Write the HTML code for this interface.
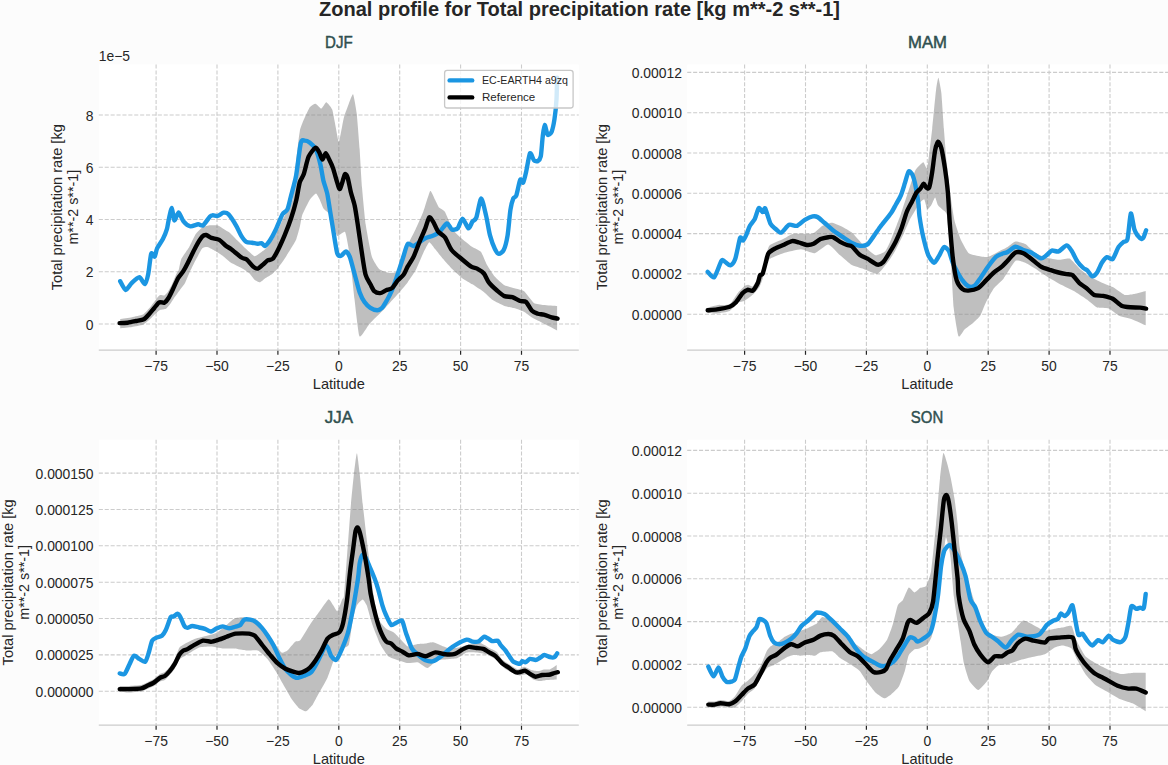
<!DOCTYPE html>
<html><head><meta charset="utf-8"><title>Zonal profile</title><style>html,body{margin:0;padding:0;background:#fcfcfc;}svg{display:block;}</style></head><body>
<svg width="1168" height="765" viewBox="0 0 1168 765" font-family='"Liberation Sans", "DejaVu Sans", sans-serif'>
<rect x="0" y="0" width="1168" height="765" fill="#fcfcfc"/>
<rect x="98.8" y="64.5" width="480.0" height="285.5" fill="#ffffff"/>
<g stroke="#cccccc" stroke-width="1.1" stroke-dasharray="4.1 1.8"><line x1="156.1" y1="64.5" x2="156.1" y2="350.0"/><line x1="217.0" y1="64.5" x2="217.0" y2="350.0"/><line x1="277.9" y1="64.5" x2="277.9" y2="350.0"/><line x1="338.8" y1="64.5" x2="338.8" y2="350.0"/><line x1="399.7" y1="64.5" x2="399.7" y2="350.0"/><line x1="460.6" y1="64.5" x2="460.6" y2="350.0"/><line x1="521.5" y1="64.5" x2="521.5" y2="350.0"/><line x1="98.8" y1="324.0" x2="578.8" y2="324.0"/><line x1="98.8" y1="271.8" x2="578.8" y2="271.8"/><line x1="98.8" y1="219.5" x2="578.8" y2="219.5"/><line x1="98.8" y1="167.2" x2="578.8" y2="167.2"/><line x1="98.8" y1="115.0" x2="578.8" y2="115.0"/></g>
<path d="M120.2,319.0C121.1,318.9 130.2,317.6 132.0,317.2C133.8,316.8 141.5,315.5 143.0,314.6C144.5,313.7 149.7,307.7 150.7,306.5C151.7,305.3 155.1,300.6 155.8,299.7C156.5,298.8 159.3,295.4 160.0,295.1C160.7,294.8 163.7,295.7 164.3,295.5C164.9,295.3 167.1,293.0 167.7,292.1C168.3,291.2 171.2,285.8 171.9,284.4C172.6,283.0 175.7,275.4 176.2,274.2C176.7,273.0 178.3,271.2 178.7,270.0C179.1,268.8 180.6,260.6 181.4,258.8C182.2,257.0 188.1,249.0 189.2,247.0C190.3,245.0 194.7,235.6 195.7,234.0C196.7,232.4 201.3,228.1 202.3,227.4C203.3,226.7 207.6,225.7 208.8,225.5C210.0,225.3 216.7,225.2 217.9,225.5C219.1,225.8 222.3,228.1 223.2,228.7C224.1,229.3 228.6,231.8 229.7,232.7C230.8,233.6 236.2,239.3 237.5,240.5C238.8,241.7 244.0,247.0 245.4,248.3C246.8,249.6 253.2,255.9 254.5,256.2C255.8,256.5 260.1,253.0 261.1,252.3C262.1,251.6 266.5,248.4 267.6,247.0C268.7,245.6 274.2,237.4 275.4,235.3C276.6,233.2 281.0,223.0 282.0,220.9C283.0,218.8 287.7,210.8 288.5,209.1C289.3,207.4 292.0,201.6 292.4,200.0C292.8,198.4 292.6,194.3 293.2,188.8C293.8,183.3 298.5,137.7 299.8,131.2C301.1,124.7 308.3,109.8 309.6,107.6C310.9,105.4 314.6,103.6 315.5,103.7C316.4,103.8 320.5,108.7 321.4,108.6C322.3,108.5 325.4,102.1 326.3,102.2C327.2,102.3 331.4,107.4 332.2,109.6C333.0,111.8 335.6,126.6 336.1,129.2C336.6,131.8 338.4,142.9 339.0,142.0C339.6,141.1 343.1,120.6 343.9,117.5C344.7,114.4 348.1,105.6 348.8,103.7C349.5,101.8 352.5,93.5 353.1,94.3C353.7,95.1 356.2,109.1 356.7,113.5C357.2,117.9 359.2,142.9 359.6,148.8C360.0,154.7 361.5,181.2 362.0,187.3C362.5,193.4 364.9,218.9 365.7,224.5C366.5,230.1 370.8,253.2 371.9,256.8C373.0,260.4 378.0,268.0 379.4,269.3C380.8,270.6 387.9,272.8 389.3,273.0C390.7,273.2 396.0,272.4 396.8,271.7C397.6,271.0 398.9,266.8 399.8,264.7C400.7,262.6 406.3,247.9 407.6,245.1C408.9,242.3 414.2,232.1 415.5,229.4C416.8,226.7 422.1,214.9 423.3,211.8C424.5,208.7 429.3,192.0 430.2,191.0C431.1,190.0 434.4,198.5 435.1,199.8C435.8,201.1 438.2,206.6 439.0,207.6C439.8,208.6 443.8,210.1 444.9,211.8C446.0,213.5 451.3,227.2 452.7,229.4C454.1,231.6 460.9,237.8 462.5,239.2C464.1,240.6 470.9,246.1 472.4,247.1C473.9,248.1 479.8,250.6 481.0,252.0C482.2,253.4 485.8,262.7 486.9,264.7C488.0,266.7 493.3,274.9 494.7,276.5C496.1,278.1 502.9,284.4 504.5,285.3C506.1,286.2 512.7,287.7 514.3,288.2C515.9,288.7 522.5,290.0 524.1,291.2C525.7,292.4 532.3,301.8 533.9,302.9C535.5,304.0 541.8,304.7 543.7,304.9C545.6,305.1 556.0,305.8 557.1,305.9L557.1,330.4C556.0,329.8 545.7,324.5 543.7,323.5C541.7,322.5 533.6,318.5 532.0,317.6C530.4,316.7 525.4,312.5 524.1,311.8C522.8,311.1 517.9,309.3 516.3,308.8C514.7,308.3 506.4,306.6 504.5,305.9C502.6,305.2 494.3,301.1 492.7,300.0C491.1,298.9 485.7,293.5 484.1,292.2C482.5,290.9 474.1,285.4 472.4,284.3C470.7,283.2 464.1,279.6 462.5,278.4C460.9,277.2 454.3,271.2 452.7,269.6C451.1,268.0 444.3,260.4 442.9,258.8C441.5,257.2 436.2,250.3 435.1,249.0C434.0,247.7 430.1,241.9 429.2,242.2C428.3,242.5 424.4,250.6 423.3,252.9C422.2,255.2 416.8,268.2 415.5,270.6C414.2,273.0 409.0,280.5 407.6,282.4C406.2,284.3 399.7,292.0 397.8,294.1C395.9,296.2 386.6,306.6 384.3,309.0C382.0,311.4 371.4,321.7 369.4,323.9C367.4,326.1 360.7,338.3 359.5,336.3C358.3,334.3 355.3,305.6 354.5,299.0C353.7,292.4 350.4,259.7 349.6,254.3C348.8,248.9 346.1,233.5 345.1,232.0C344.1,230.5 338.3,237.1 337.1,235.7C335.9,234.3 330.8,216.8 329.7,214.6C328.6,212.4 324.3,209.6 323.5,208.4C322.7,207.2 320.4,200.9 319.8,199.7C319.2,198.5 316.8,193.5 316.0,193.5C315.2,193.5 310.9,198.0 309.8,199.7C308.7,201.4 303.2,212.5 302.4,214.6C301.6,216.7 300.5,224.1 300.0,226.1C299.5,228.1 297.0,237.4 296.3,239.2C295.6,241.0 292.0,246.7 291.1,248.3C290.2,249.9 285.6,257.2 284.6,258.8C283.6,260.4 279.1,266.6 278.1,267.9C277.1,269.2 272.5,273.7 271.5,274.5C270.5,275.3 265.9,277.8 265.0,278.4C264.1,279.0 260.6,282.2 259.8,282.3C259.0,282.4 255.3,280.4 254.5,279.7C253.7,279.0 250.3,274.1 249.3,273.2C248.3,272.3 243.0,268.7 241.5,267.9C240.0,267.1 232.5,263.6 231.0,262.7C229.5,261.8 224.5,257.1 223.2,256.2C221.9,255.3 216.6,251.7 215.3,251.0C214.0,250.3 208.5,247.2 207.5,247.0C206.5,246.8 203.2,247.3 202.3,248.3C201.4,249.3 196.7,258.1 195.7,260.1C194.7,262.1 190.1,271.3 189.2,273.2C188.3,275.1 185.5,282.2 184.7,283.6C183.9,285.0 180.4,289.3 179.6,290.4C178.8,291.5 175.3,296.1 174.5,297.2C173.7,298.3 170.9,303.1 170.2,304.0C169.5,304.9 166.8,308.2 166.0,308.7C165.2,309.2 160.9,309.5 160.0,309.9C159.1,310.3 155.8,313.4 154.9,314.2C154.0,315.0 150.0,319.3 149.0,320.1C148.0,320.9 144.4,324.3 143.0,324.8C141.6,325.3 133.8,326.6 132.0,326.9C130.2,327.2 121.1,328.1 120.2,328.2Z" fill="#808080" fill-opacity="0.5" stroke="none"/>
<path d="M120.2,281.2C120.9,282.3 124.3,289.8 125.7,290.0C127.1,290.2 130.0,284.6 131.6,283.1C133.2,281.6 137.8,277.2 139.4,277.3C141.0,277.4 143.8,284.5 144.9,284.1C146.0,283.7 147.4,277.9 148.2,274.3C149.0,270.7 150.4,255.8 151.2,253.7C152.0,251.6 154.0,257.3 154.7,256.7C155.4,256.1 156.1,250.5 157.1,248.4C158.1,246.3 161.7,241.3 162.9,239.0C164.1,236.7 166.2,231.6 166.9,229.2C167.6,226.8 168.2,221.9 168.8,219.4C169.4,216.9 171.1,207.9 171.8,208.0C172.5,208.1 173.5,219.9 174.3,220.4C175.1,220.9 177.5,212.4 178.6,212.5C179.7,212.6 182.1,219.7 183.5,221.4C184.9,223.1 188.6,226.0 190.4,226.3C192.2,226.6 196.7,224.4 198.2,224.3C199.7,224.2 201.7,226.2 203.1,225.3C204.5,224.4 208.8,217.7 210.0,216.5C211.2,215.3 211.9,215.4 212.8,215.3C213.7,215.2 216.4,216.2 217.7,215.9C219.0,215.6 222.3,212.9 223.6,212.7C224.9,212.5 227.0,212.7 228.5,214.3C230.0,215.9 234.9,223.5 236.4,226.1C237.9,228.7 240.1,234.0 241.3,235.9C242.5,237.8 244.9,241.0 246.2,241.8C247.5,242.6 250.7,242.5 252.1,242.7C253.5,242.9 256.7,243.6 257.9,243.7C259.1,243.8 261.1,243.0 261.9,243.3C262.7,243.6 263.9,246.4 264.8,246.1C265.7,245.8 268.4,242.7 269.7,240.8C271.0,238.9 274.1,233.2 275.6,230.0C277.1,226.8 281.1,216.8 282.5,214.3C283.9,211.8 286.3,211.8 287.4,209.4C288.5,207.0 290.2,198.8 291.3,194.7C292.4,190.6 295.1,181.3 296.2,175.1C297.3,168.9 299.8,147.0 300.8,142.9C301.8,138.8 303.6,140.6 304.7,140.6C305.8,140.6 308.3,141.5 309.6,142.5C310.9,143.5 314.2,146.2 315.5,148.8C316.8,151.4 319.5,160.7 320.4,164.5C321.3,168.3 322.5,176.7 323.3,180.2C324.1,183.7 326.5,190.1 327.3,193.9C328.1,197.7 329.5,207.5 330.2,211.8C330.9,216.1 332.3,224.5 333.1,229.4C333.9,234.3 336.2,249.7 337.1,252.9C338.0,256.1 339.9,256.1 341.0,255.9C342.1,255.7 344.8,251.3 345.9,251.4C347.0,251.5 348.7,254.1 349.8,256.9C350.9,259.7 353.5,270.3 354.7,274.5C355.9,278.7 358.4,288.9 359.6,292.2C360.8,295.5 363.2,300.1 364.5,302.0C365.8,303.9 368.9,306.8 370.4,307.8C371.9,308.8 375.9,310.2 377.3,310.2C378.7,310.2 381.0,309.0 382.2,307.8C383.4,306.6 385.9,302.1 387.1,300.0C388.3,297.9 390.8,293.0 392.0,290.2C393.2,287.4 395.6,280.3 396.9,276.5C398.2,272.7 401.4,262.7 402.7,258.8C404.0,254.9 406.3,245.6 407.6,244.1C408.9,242.6 412.1,246.3 413.5,246.1C414.9,245.9 418.0,243.1 419.4,242.2C420.8,241.3 423.9,238.9 425.3,238.2C426.7,237.5 429.6,237.0 431.2,236.3C432.8,235.6 437.1,233.9 439.0,232.4C440.9,230.9 445.4,223.9 446.9,223.5C448.4,223.1 450.5,228.8 451.8,229.4C453.1,230.0 456.3,229.7 457.6,228.4C458.9,227.1 461.2,218.6 462.5,218.6C463.8,218.6 467.2,228.0 468.4,228.4C469.6,228.8 471.5,222.9 472.4,221.6C473.3,220.3 475.2,220.4 476.3,217.6C477.4,214.8 480.0,198.7 481.2,198.5C482.4,198.3 485.0,211.3 486.1,215.7C487.2,220.1 488.9,231.3 490.0,235.3C491.1,239.3 493.8,246.8 494.9,249.0C496.0,251.2 497.7,253.8 498.8,253.9C499.9,254.0 502.6,252.2 503.7,250.0C504.8,247.8 506.8,240.1 507.6,235.3C508.4,230.5 509.7,214.4 510.4,210.0C511.1,205.6 512.6,200.1 513.3,198.4C514.0,196.7 515.5,197.7 516.3,195.5C517.1,193.3 519.4,181.3 520.2,179.8C521.0,178.3 522.4,183.6 523.1,182.7C523.8,181.8 525.3,175.5 526.1,172.0C526.9,168.5 529.1,154.7 530.0,153.3C530.9,151.9 533.0,159.3 533.9,160.2C534.8,161.1 537.0,161.7 537.8,161.2C538.6,160.7 540.2,159.2 540.8,156.3C541.4,153.4 542.2,140.5 542.7,136.7C543.2,132.9 544.1,125.1 544.7,124.9C545.3,124.7 546.8,133.9 547.6,134.7C548.4,135.5 550.8,133.7 551.6,131.8C552.4,129.9 553.9,122.9 554.5,119.0C555.1,115.1 556.2,104.3 556.5,99.4C556.8,94.5 557.0,80.4 557.1,77.8" fill="none" stroke="#1b96e2" stroke-width="4.4" stroke-linejoin="round" stroke-linecap="round"/>
<path d="M119.6,323.1C120.6,323.1 125.7,323.0 127.7,322.7C129.7,322.4 134.3,321.4 136.2,321.0C138.1,320.6 142.4,320.1 143.9,319.3C145.4,318.5 147.8,315.5 149.0,314.2C150.2,312.9 152.9,309.6 154.1,308.2C155.3,306.8 158.0,303.0 159.2,302.3C160.4,301.6 163.2,303.2 164.3,302.7C165.4,302.2 167.5,299.6 168.5,298.0C169.5,296.4 171.7,291.8 172.8,289.5C173.9,287.2 176.7,280.6 177.9,278.5C179.1,276.4 181.8,273.6 183.0,271.7C184.2,269.8 186.4,265.7 187.9,262.7C189.4,259.7 194.0,250.1 195.7,247.0C197.4,243.9 201.0,238.0 202.3,236.6C203.6,235.2 205.1,234.8 206.2,235.0C207.3,235.2 209.8,237.3 211.4,237.9C213.0,238.5 217.6,239.0 219.3,239.9C221.0,240.8 224.4,244.6 225.8,245.7C227.2,246.8 229.1,247.6 231.0,249.0C232.9,250.4 239.6,256.2 241.5,257.5C243.4,258.8 245.3,258.4 246.7,259.5C248.1,260.6 251.9,265.5 253.2,266.6C254.5,267.7 256.5,268.9 257.8,268.6C259.1,268.3 262.5,265.0 263.7,264.0C264.9,263.0 266.5,261.0 267.6,260.4C268.7,259.8 271.5,260.1 272.8,258.8C274.1,257.5 276.7,252.5 278.1,249.7C279.5,246.9 283.0,239.1 284.6,235.3C286.2,231.5 289.7,222.5 291.1,218.3C292.5,214.1 295.3,204.3 296.3,200.0C297.3,195.7 298.9,185.3 299.8,182.2C300.7,179.1 302.6,177.4 303.7,174.3C304.8,171.2 307.2,159.9 308.6,156.7C310.0,153.5 314.2,148.3 315.5,147.8C316.8,147.3 318.6,151.3 319.4,152.7C320.2,154.1 321.6,159.6 322.4,159.6C323.2,159.6 324.9,153.1 325.7,153.1C326.5,153.1 328.3,157.8 329.2,159.6C330.1,161.4 332.2,165.7 333.1,168.4C334.0,171.1 336.3,179.7 337.1,182.2C337.9,184.7 339.1,189.9 340.0,189.0C340.9,188.1 344.0,175.6 344.9,174.3C345.8,173.0 347.1,176.1 347.8,178.2C348.5,180.3 350.0,188.7 350.8,192.0C351.6,195.3 353.9,201.9 354.7,205.7C355.5,209.5 356.8,218.1 357.6,223.5C358.4,228.9 360.7,244.9 361.6,251.0C362.5,257.1 364.4,270.5 365.5,274.5C366.6,278.5 369.3,282.3 370.4,284.3C371.5,286.3 373.1,290.1 374.3,291.2C375.5,292.3 378.8,293.2 380.2,293.1C381.6,293.0 384.7,290.8 386.1,290.2C387.5,289.6 390.6,289.4 392.0,288.2C393.4,287.0 396.4,282.0 397.8,280.4C399.2,278.8 402.5,276.1 403.7,274.5C404.9,272.9 406.4,268.8 407.6,266.7C408.8,264.6 412.1,259.8 413.5,256.9C414.9,254.0 418.0,245.6 419.4,242.2C420.8,238.8 424.1,231.4 425.3,228.4C426.5,225.4 428.3,218.1 429.2,217.3C430.1,216.5 432.0,219.9 433.1,221.6C434.2,223.3 436.6,229.5 438.0,231.4C439.4,233.3 443.3,235.1 444.9,237.3C446.5,239.5 449.6,247.4 451.6,250.0C453.6,252.6 459.0,256.8 461.4,258.8C463.8,260.8 469.3,265.5 471.2,266.7C473.1,267.9 475.6,267.8 477.1,268.6C478.6,269.4 482.5,271.8 483.9,273.5C485.3,275.2 487.3,280.4 488.8,282.4C490.3,284.4 494.8,288.6 496.7,290.2C498.6,291.8 502.6,295.3 504.5,296.1C506.4,296.9 510.5,296.5 512.4,297.1C514.3,297.7 518.6,300.4 520.2,301.0C521.8,301.6 524.7,300.8 526.1,302.0C527.5,303.2 530.6,309.4 532.0,310.8C533.4,312.2 536.4,313.2 537.8,313.7C539.2,314.2 542.0,314.3 543.7,314.7C545.4,315.1 549.9,316.8 551.6,317.3C553.3,317.8 556.8,318.4 557.5,318.6" fill="none" stroke="#000" stroke-width="4.4" stroke-linejoin="round" stroke-linecap="round"/>
<line x1="98.8" y1="350.0" x2="578.8" y2="350.0" stroke="#cccccc" stroke-width="1.25"/>
<g stroke="#262626" stroke-width="1.2"><line x1="156.1" y1="350.8" x2="156.1" y2="354.8"/><line x1="217.0" y1="350.8" x2="217.0" y2="354.8"/><line x1="277.9" y1="350.8" x2="277.9" y2="354.8"/><line x1="338.8" y1="350.8" x2="338.8" y2="354.8"/><line x1="399.7" y1="350.8" x2="399.7" y2="354.8"/><line x1="460.6" y1="350.8" x2="460.6" y2="354.8"/><line x1="521.5" y1="350.8" x2="521.5" y2="354.8"/></g>
<g font-size="13.9" fill="#262626"><text x="156.1" y="371.0" text-anchor="middle">−75</text><text x="217.0" y="371.0" text-anchor="middle">−50</text><text x="277.9" y="371.0" text-anchor="middle">−25</text><text x="338.8" y="371.0" text-anchor="middle">0</text><text x="399.7" y="371.0" text-anchor="middle">25</text><text x="460.6" y="371.0" text-anchor="middle">50</text><text x="521.5" y="371.0" text-anchor="middle">75</text></g>
<g font-size="13.9" fill="#262626"><text x="93.5" y="329.5" text-anchor="end">0</text><text x="93.5" y="277.2" text-anchor="end">2</text><text x="93.5" y="225.0" text-anchor="end">4</text><text x="93.5" y="172.8" text-anchor="end">6</text><text x="93.5" y="120.5" text-anchor="end">8</text></g>
<text x="338.8" y="389.0" text-anchor="middle" font-size="13.9" fill="#262626" textLength="52" lengthAdjust="spacingAndGlyphs">Latitude</text>
<text x="338.9" y="47.8" text-anchor="middle" font-size="15.6" fill="#2f4f4f" stroke="#2f4f4f" stroke-width="0.45" textLength="27.6" lengthAdjust="spacingAndGlyphs">DJF</text>
<rect x="687.2" y="64.5" width="480.8" height="285.5" fill="#ffffff"/>
<g stroke="#cccccc" stroke-width="1.1" stroke-dasharray="4.1 1.8"><line x1="744.6" y1="64.5" x2="744.6" y2="350.0"/><line x1="805.5" y1="64.5" x2="805.5" y2="350.0"/><line x1="866.4" y1="64.5" x2="866.4" y2="350.0"/><line x1="927.3" y1="64.5" x2="927.3" y2="350.0"/><line x1="988.2" y1="64.5" x2="988.2" y2="350.0"/><line x1="1049.1" y1="64.5" x2="1049.1" y2="350.0"/><line x1="1110.0" y1="64.5" x2="1110.0" y2="350.0"/><line x1="687.2" y1="314.2" x2="1168.0" y2="314.2"/><line x1="687.2" y1="273.9" x2="1168.0" y2="273.9"/><line x1="687.2" y1="233.6" x2="1168.0" y2="233.6"/><line x1="687.2" y1="193.3" x2="1168.0" y2="193.3"/><line x1="687.2" y1="153.0" x2="1168.0" y2="153.0"/><line x1="687.2" y1="112.7" x2="1168.0" y2="112.7"/><line x1="687.2" y1="72.4" x2="1168.0" y2="72.4"/></g>
<path d="M707.7,307.5C708.4,307.3 715.2,305.5 717.0,305.2C718.8,304.9 728.0,305.3 729.7,304.3C731.4,303.3 737.0,293.8 738.2,292.4C739.4,291.0 743.4,287.0 744.2,286.4C745.0,285.8 747.3,284.8 748.0,284.8C748.7,284.8 751.9,286.9 752.7,286.4C753.5,285.9 757.0,279.4 757.8,278.0C758.6,276.6 762.0,270.2 762.6,268.5C763.2,266.8 765.0,258.8 765.6,257.0C766.2,255.2 768.1,246.8 769.5,245.4C770.9,244.0 781.3,239.9 783.2,239.0C785.1,238.1 790.6,234.4 793.0,234.0C795.4,233.6 810.2,234.3 812.6,233.6C815.0,232.9 820.9,226.7 822.5,225.8C824.1,224.9 830.6,222.6 832.3,222.8C834.0,223.0 842.4,226.9 844.0,227.7C845.6,228.5 850.3,231.2 851.9,232.6C853.5,234.0 861.7,243.6 863.6,245.4C865.5,247.2 873.7,254.7 875.4,255.2C877.1,255.7 883.9,252.6 885.2,251.3C886.5,250.0 889.8,242.5 891.1,239.5C892.4,236.5 899.4,218.2 900.9,214.0C902.4,209.8 908.4,191.1 909.6,187.6C910.8,184.1 914.4,172.0 915.5,170.0C916.6,168.0 922.4,162.4 923.3,162.2C924.2,162.0 926.6,170.7 927.3,168.0C928.0,165.3 931.5,135.1 932.2,128.8C932.9,122.5 935.6,93.7 936.1,89.6C936.6,85.5 938.0,77.5 938.4,77.8C938.8,78.1 941.0,89.4 941.4,93.5C941.8,97.6 943.5,123.2 943.9,128.8C944.3,134.4 946.3,158.6 946.9,164.1C947.5,169.6 950.2,192.9 950.8,197.5C951.4,202.1 953.9,218.3 954.7,221.6C955.5,224.9 959.5,236.7 960.6,239.2C961.7,241.7 967.0,251.6 968.4,252.9C969.8,254.2 976.6,255.6 978.2,255.9C979.8,256.2 986.3,257.3 988.0,256.9C989.7,256.5 998.2,251.8 999.8,251.0C1001.4,250.2 1006.3,247.9 1007.6,247.1C1008.9,246.3 1014.1,241.8 1015.5,241.6C1016.9,241.4 1023.7,243.2 1025.3,244.1C1026.9,245.0 1033.4,251.8 1035.1,252.9C1036.8,254.0 1045.0,257.2 1046.9,257.8C1048.8,258.4 1056.8,259.7 1058.6,259.8C1060.4,259.9 1067.9,257.9 1069.6,258.6C1071.3,259.3 1077.8,267.0 1079.4,268.4C1081.0,269.8 1087.5,275.2 1089.2,276.3C1090.9,277.4 1099.1,281.3 1101.0,282.2C1102.9,283.1 1110.8,286.1 1112.7,287.1C1114.6,288.1 1122.8,294.3 1124.5,294.9C1126.2,295.5 1132.6,294.3 1134.3,294.0C1136.0,293.7 1144.8,291.2 1145.7,291.0L1145.7,325.3C1144.6,324.8 1134.6,320.2 1132.4,319.4C1130.2,318.6 1120.5,316.4 1118.6,315.5C1116.7,314.6 1110.5,309.2 1108.8,308.6C1107.1,308.0 1098.8,308.3 1097.1,307.6C1095.4,306.9 1089.0,301.0 1087.3,299.8C1085.6,298.6 1077.5,293.2 1075.5,292.0C1073.5,290.8 1064.1,286.3 1061.8,285.1C1059.5,283.9 1049.0,277.8 1046.9,276.5C1044.8,275.2 1036.8,269.7 1035.1,268.6C1033.4,267.5 1026.9,263.3 1025.3,262.7C1023.7,262.1 1017.2,259.5 1015.5,260.8C1013.8,262.1 1005.4,276.2 1003.7,278.4C1002.0,280.6 995.3,286.3 993.9,288.2C992.5,290.1 987.2,299.8 986.1,302.0C985.0,304.2 981.3,314.0 980.2,315.7C979.1,317.4 973.7,322.4 972.4,323.5C971.1,324.6 965.6,328.4 964.5,329.4C963.4,330.4 959.5,338.0 958.6,336.3C957.7,334.6 954.3,314.0 953.7,307.8C953.1,301.6 951.3,266.2 950.8,258.8C950.3,251.4 947.6,219.1 946.9,215.1C946.2,211.1 942.7,210.0 942.0,209.2C941.3,208.4 938.6,206.2 938.0,205.3C937.4,204.4 935.6,197.5 935.1,197.5C934.6,197.5 931.8,204.4 931.2,205.3C930.6,206.2 927.9,209.7 927.3,209.2C926.7,208.7 924.9,199.9 924.3,199.4C923.7,198.9 920.1,202.5 919.4,203.3C918.7,204.1 916.3,208.7 915.5,210.0C914.7,211.3 910.6,218.0 909.6,220.0C908.6,222.0 904.0,233.1 902.8,235.6C901.6,238.1 896.2,249.1 895.0,251.3C893.8,253.5 888.6,261.2 887.2,263.0C885.8,264.8 879.3,273.3 877.4,273.8C875.5,274.3 865.6,269.6 863.6,268.9C861.6,268.2 853.8,266.1 851.9,265.0C850.0,263.9 842.0,256.8 840.1,255.2C838.2,253.6 830.3,244.6 828.3,244.4C826.3,244.2 816.8,252.8 814.6,253.2C812.4,253.6 803.4,249.3 800.9,249.3C798.4,249.3 785.7,252.4 783.2,253.2C780.7,254.0 770.9,257.9 769.5,259.1C768.1,260.3 766.2,266.4 765.6,268.0C765.0,269.6 763.1,277.5 762.6,279.0C762.1,280.5 760.0,286.2 759.3,287.3C758.6,288.4 755.1,292.4 754.3,293.2C753.5,294.0 750.0,296.9 749.2,297.5C748.4,298.1 745.1,300.6 744.2,301.0C743.3,301.4 739.4,301.8 738.2,302.6C737.0,303.4 731.4,310.1 729.7,311.0C728.0,311.9 718.8,313.3 717.0,313.5C715.2,313.7 708.4,313.0 707.7,313.0Z" fill="#808080" fill-opacity="0.5" stroke="none"/>
<path d="M707.7,271.9C708.5,272.5 712.5,278.5 714.2,277.2C715.9,275.9 720.2,262.5 721.5,260.7C722.8,258.9 724.3,261.5 725.4,262.1C726.5,262.7 729.1,265.8 730.3,265.4C731.5,265.0 734.0,262.4 735.2,259.1C736.4,255.8 739.2,240.1 740.1,237.9C741.0,235.7 742.2,240.9 743.0,240.5C743.8,240.1 745.6,236.4 746.4,234.6C747.2,232.8 748.9,227.7 749.9,225.8C750.9,223.9 753.7,221.0 754.8,218.9C755.9,216.8 757.8,208.9 758.7,208.1C759.6,207.3 761.8,212.1 762.6,212.1C763.4,212.1 764.3,207.1 765.2,208.5C766.1,209.9 769.3,221.4 770.5,223.8C771.7,226.2 774.1,227.6 775.4,228.7C776.7,229.8 779.7,233.1 781.3,232.6C782.9,232.1 787.2,225.6 789.1,224.8C791.0,224.0 795.1,226.4 797.0,225.8C798.9,225.2 802.9,221.0 804.8,219.9C806.7,218.8 811.1,216.7 812.6,216.4C814.1,216.1 816.1,216.2 817.5,217.0C818.9,217.8 822.6,221.3 824.4,222.8C826.2,224.3 830.2,228.0 832.3,229.7C834.4,231.4 839.7,235.0 842.1,236.6C844.5,238.2 849.8,241.9 851.9,243.0C854.0,244.1 857.8,245.6 859.7,245.8C861.6,246.0 865.9,245.5 867.5,244.4C869.1,243.3 871.9,238.7 873.4,236.6C874.9,234.5 878.2,229.6 880.3,226.8C882.4,224.0 889.2,215.7 891.1,213.0C893.0,210.3 894.7,206.6 895.9,204.5C897.1,202.4 899.7,198.0 900.8,195.5C901.9,193.0 903.8,186.6 904.7,183.7C905.6,180.8 907.7,172.7 908.6,171.6C909.5,170.5 911.7,173.2 912.5,174.9C913.3,176.6 914.8,182.3 915.5,185.7C916.2,189.1 917.9,199.7 918.4,203.3C918.9,206.9 918.8,211.6 919.4,215.7C920.0,219.8 922.2,232.6 923.3,237.3C924.4,242.0 926.9,251.9 928.2,254.9C929.5,257.9 932.8,262.6 934.1,262.7C935.4,262.8 937.8,257.8 939.0,255.9C940.2,254.0 942.7,247.7 943.9,247.1C945.1,246.5 947.7,249.1 948.8,251.0C949.9,252.9 951.6,260.1 952.7,262.7C953.8,265.3 956.4,270.4 957.6,272.5C958.8,274.6 961.2,278.7 962.5,280.4C963.8,282.1 967.0,285.6 968.4,286.3C969.8,287.0 972.9,286.8 974.3,285.9C975.7,285.0 978.6,280.7 980.2,278.4C981.8,276.1 986.1,269.3 988.0,266.7C989.9,264.1 994.2,258.4 995.9,256.9C997.6,255.4 1000.4,254.5 1001.8,253.9C1003.2,253.3 1006.0,252.9 1007.6,252.0C1009.2,251.1 1013.6,246.9 1015.5,246.7C1017.4,246.5 1021.4,249.3 1023.3,250.0C1025.2,250.7 1029.1,251.5 1031.2,252.5C1033.3,253.5 1039.1,258.1 1041.0,258.4C1042.9,258.7 1045.6,255.8 1046.9,254.9C1048.2,254.0 1050.4,251.0 1051.8,250.6C1053.2,250.2 1056.8,252.0 1058.6,251.4C1060.4,250.8 1065.0,245.5 1066.6,245.4C1068.2,245.3 1070.3,248.9 1071.6,250.8C1072.9,252.7 1076.1,259.5 1077.5,261.6C1078.9,263.7 1082.1,266.9 1083.3,268.0C1084.5,269.1 1086.2,269.4 1087.3,270.4C1088.4,271.4 1091.0,276.1 1092.2,276.3C1093.4,276.5 1095.9,274.1 1097.1,272.4C1098.3,270.7 1100.8,264.3 1102.0,262.5C1103.2,260.7 1105.6,257.5 1106.9,257.1C1108.2,256.7 1111.3,260.2 1112.7,259.0C1114.1,257.8 1117.3,248.9 1118.6,246.9C1119.9,244.9 1122.4,242.9 1123.5,242.0C1124.6,241.1 1126.6,242.4 1127.5,239.0C1128.4,235.6 1130.0,214.7 1130.8,213.5C1131.6,212.3 1133.5,226.6 1134.3,229.2C1135.1,231.8 1136.4,233.9 1137.3,235.1C1138.2,236.3 1141.0,238.8 1141.8,239.0C1142.6,239.2 1143.2,238.2 1143.7,237.1C1144.2,236.0 1145.8,231.0 1146.1,230.2" fill="none" stroke="#1b96e2" stroke-width="4.4" stroke-linejoin="round" stroke-linecap="round"/>
<path d="M707.7,310.3C708.8,310.2 714.4,309.8 717.0,309.4C719.6,309.0 727.5,307.6 729.7,306.8C731.9,306.0 734.2,304.2 735.7,302.6C737.2,301.0 741.1,294.7 742.5,293.2C743.9,291.7 746.4,290.1 747.6,289.8C748.8,289.5 751.5,291.5 752.7,290.7C753.9,289.9 756.9,284.8 757.8,283.0C758.7,281.2 759.4,276.5 760.0,275.4C760.6,274.3 761.9,275.3 762.6,273.8C763.3,272.3 764.9,265.5 765.6,263.0C766.3,260.5 767.3,255.0 768.5,253.2C769.7,251.4 773.6,249.3 775.4,248.3C777.2,247.3 781.2,245.9 783.2,245.0C785.2,244.1 790.2,241.4 792.1,241.1C794.0,240.8 797.1,242.0 798.9,242.5C800.7,243.0 805.0,244.8 806.8,245.0C808.6,245.2 812.0,244.5 813.6,243.8C815.2,243.1 818.7,239.9 820.5,239.1C822.3,238.3 826.8,237.4 828.3,237.2C829.8,237.0 831.8,236.6 833.2,237.2C834.6,237.8 838.4,241.0 840.1,241.9C841.8,242.8 845.6,244.5 847.0,245.0C848.4,245.5 850.4,245.2 851.9,246.4C853.4,247.6 857.8,253.3 859.7,254.8C861.6,256.3 865.4,257.5 867.5,258.7C869.6,259.9 875.5,264.2 877.4,264.6C879.3,265.0 881.8,263.5 883.2,262.1C884.6,260.7 887.6,255.7 889.1,253.2C890.6,250.7 894.4,244.3 895.9,241.2C897.4,238.1 900.5,231.0 901.8,227.5C903.1,224.0 905.5,215.0 906.7,212.0C907.9,209.0 910.4,204.7 911.6,202.4C912.8,200.1 915.4,194.2 916.5,192.5C917.6,190.8 919.5,189.7 920.4,188.6C921.3,187.5 923.0,183.8 923.7,183.7C924.4,183.6 925.6,187.1 926.3,187.6C927.0,188.1 928.5,189.5 929.2,187.6C929.9,185.7 931.5,176.5 932.2,172.0C932.9,167.5 934.4,154.0 935.1,150.4C935.8,146.8 937.2,141.8 938.0,141.6C938.8,141.4 940.6,145.2 941.4,148.4C942.2,151.6 944.1,162.8 944.9,168.0C945.7,173.2 947.2,184.9 947.8,191.6C948.4,198.3 949.2,215.7 949.8,223.5C950.4,231.3 951.9,250.1 952.7,256.9C953.5,263.7 955.5,276.5 956.7,280.4C957.9,284.3 961.1,288.0 962.5,289.2C963.9,290.4 966.5,290.7 968.4,290.6C970.3,290.5 976.1,289.4 978.2,288.2C980.3,287.0 984.2,282.3 986.1,280.4C988.0,278.5 992.0,274.1 993.9,272.5C995.8,270.9 1000.2,268.1 1001.8,266.7C1003.4,265.3 1006.0,262.5 1007.6,260.8C1009.2,259.1 1013.6,253.4 1015.5,252.5C1017.4,251.6 1021.4,252.5 1023.3,253.3C1025.2,254.1 1029.1,257.2 1031.2,258.8C1033.3,260.4 1038.6,265.3 1041.0,266.7C1043.4,268.1 1048.7,269.5 1050.8,270.2C1052.9,270.9 1056.7,272.0 1058.6,272.5C1060.5,273.0 1064.8,273.8 1066.5,274.1C1068.2,274.4 1070.9,274.0 1072.4,275.1C1073.9,276.2 1077.7,281.6 1079.4,283.1C1081.1,284.6 1084.5,286.6 1086.3,288.0C1088.1,289.4 1092.1,294.0 1094.1,294.9C1096.1,295.8 1100.7,295.4 1102.9,295.9C1105.1,296.4 1110.5,297.6 1112.7,298.8C1114.9,300.0 1119.5,304.7 1121.6,305.7C1123.7,306.7 1128.2,307.1 1130.4,307.3C1132.6,307.5 1138.3,307.4 1140.2,307.6C1142.1,307.8 1145.4,308.5 1146.1,308.6" fill="none" stroke="#000" stroke-width="4.4" stroke-linejoin="round" stroke-linecap="round"/>
<line x1="687.2" y1="350.0" x2="1168.0" y2="350.0" stroke="#cccccc" stroke-width="1.25"/>
<g stroke="#262626" stroke-width="1.2"><line x1="744.6" y1="350.8" x2="744.6" y2="354.8"/><line x1="805.5" y1="350.8" x2="805.5" y2="354.8"/><line x1="866.4" y1="350.8" x2="866.4" y2="354.8"/><line x1="927.3" y1="350.8" x2="927.3" y2="354.8"/><line x1="988.2" y1="350.8" x2="988.2" y2="354.8"/><line x1="1049.1" y1="350.8" x2="1049.1" y2="354.8"/><line x1="1110.0" y1="350.8" x2="1110.0" y2="354.8"/></g>
<g font-size="13.9" fill="#262626"><text x="744.6" y="371.0" text-anchor="middle">−75</text><text x="805.5" y="371.0" text-anchor="middle">−50</text><text x="866.4" y="371.0" text-anchor="middle">−25</text><text x="927.3" y="371.0" text-anchor="middle">0</text><text x="988.2" y="371.0" text-anchor="middle">25</text><text x="1049.1" y="371.0" text-anchor="middle">50</text><text x="1110.0" y="371.0" text-anchor="middle">75</text></g>
<g font-size="13.9" fill="#262626"><text x="681.9" y="319.7" text-anchor="end">0.00000</text><text x="681.9" y="279.4" text-anchor="end">0.00002</text><text x="681.9" y="239.1" text-anchor="end">0.00004</text><text x="681.9" y="198.8" text-anchor="end">0.00006</text><text x="681.9" y="158.5" text-anchor="end">0.00008</text><text x="681.9" y="118.2" text-anchor="end">0.00010</text><text x="681.9" y="77.9" text-anchor="end">0.00012</text></g>
<text x="927.3" y="389.0" text-anchor="middle" font-size="13.9" fill="#262626" textLength="52" lengthAdjust="spacingAndGlyphs">Latitude</text>
<text x="927.5" y="47.8" text-anchor="middle" font-size="15.6" fill="#2f4f4f" stroke="#2f4f4f" stroke-width="0.45" textLength="39.0" lengthAdjust="spacingAndGlyphs">MAM</text>
<rect x="98.8" y="439.7" width="480.0" height="285.3" fill="#ffffff"/>
<g stroke="#cccccc" stroke-width="1.1" stroke-dasharray="4.1 1.8"><line x1="156.1" y1="439.7" x2="156.1" y2="725.0"/><line x1="217.0" y1="439.7" x2="217.0" y2="725.0"/><line x1="277.9" y1="439.7" x2="277.9" y2="725.0"/><line x1="338.8" y1="439.7" x2="338.8" y2="725.0"/><line x1="399.7" y1="439.7" x2="399.7" y2="725.0"/><line x1="460.6" y1="439.7" x2="460.6" y2="725.0"/><line x1="521.5" y1="439.7" x2="521.5" y2="725.0"/><line x1="98.8" y1="691.2" x2="578.8" y2="691.2"/><line x1="98.8" y1="654.9" x2="578.8" y2="654.9"/><line x1="98.8" y1="618.5" x2="578.8" y2="618.5"/><line x1="98.8" y1="582.2" x2="578.8" y2="582.2"/><line x1="98.8" y1="545.8" x2="578.8" y2="545.8"/><line x1="98.8" y1="509.5" x2="578.8" y2="509.5"/><line x1="98.8" y1="473.1" x2="578.8" y2="473.1"/></g>
<path d="M119.7,686.0C120.4,686.0 126.8,686.1 128.5,686.0C130.2,685.9 139.8,685.3 141.3,685.0C142.8,684.7 146.2,683.0 147.2,682.5C148.2,682.0 153.0,679.7 154.0,679.0C155.0,678.3 159.0,674.6 159.9,674.0C160.8,673.4 164.0,672.6 164.8,672.0C165.6,671.4 168.9,668.0 169.7,667.0C170.5,666.0 173.8,661.1 174.6,659.5C175.4,657.9 178.5,648.9 179.5,647.5C180.5,646.1 186.1,643.3 187.4,642.6C188.7,641.9 193.6,639.2 195.2,638.7C196.8,638.2 205.3,636.3 207.0,635.8C208.7,635.3 215.2,633.7 216.8,632.8C218.4,631.9 225.2,626.1 226.6,625.0C228.0,623.9 233.1,619.1 234.4,618.5C235.7,617.9 241.0,617.2 242.3,617.2C243.6,617.2 248.9,618.6 250.1,619.1C251.3,619.6 256.6,623.0 257.9,624.0C259.2,625.0 264.5,630.5 265.8,631.9C267.1,633.3 272.3,640.1 273.6,641.7C274.9,643.3 280.4,651.8 281.5,652.5C282.6,653.2 286.3,651.4 287.4,650.5C288.5,649.6 294.2,642.5 295.2,641.7C296.2,640.9 298.8,641.9 300.0,640.6C301.2,639.3 308.2,627.3 309.8,624.9C311.4,622.5 318.1,613.2 319.6,611.2C321.1,609.2 327.3,599.9 328.4,599.4C329.5,598.9 332.3,604.1 333.0,605.0C333.7,605.9 336.6,611.6 337.3,611.2C338.0,610.8 341.7,600.7 342.2,599.4C342.7,598.1 343.6,599.5 344.1,595.0C344.6,590.5 347.4,550.3 348.0,543.0C348.6,535.7 350.5,509.3 351.0,503.8C351.5,498.3 353.4,478.4 353.9,474.4C354.4,470.4 356.4,453.2 356.9,453.2C357.4,453.2 359.3,470.4 359.8,474.4C360.3,478.4 362.1,498.6 362.7,503.8C363.3,509.0 366.1,533.8 366.7,539.1C367.3,544.4 370.1,566.0 370.6,570.5C371.1,575.0 372.9,591.1 373.5,595.0C374.1,598.9 377.4,616.3 378.4,619.0C379.4,621.7 385.0,627.7 386.3,628.8C387.6,629.9 393.0,631.9 394.1,632.7C395.2,633.5 398.9,637.5 400.0,638.6C401.1,639.7 406.4,646.1 407.8,646.5C409.2,646.9 416.2,644.3 417.6,644.1C419.0,643.9 424.2,643.7 425.5,643.5C426.8,643.3 432.0,642.0 433.3,642.2C434.6,642.4 439.9,645.0 441.2,645.5C442.5,646.0 447.6,648.2 449.0,648.4C450.4,648.6 457.2,647.8 458.8,647.5C460.4,647.2 466.9,644.9 468.6,644.5C470.3,644.1 478.7,642.6 480.4,642.9C482.1,643.2 488.9,647.7 490.2,648.4C491.5,649.1 495.7,650.8 496.7,651.7C497.7,652.6 501.0,658.3 502.2,659.4C503.4,660.5 509.9,664.8 511.1,665.6C512.3,666.4 516.7,669.3 517.8,669.4C518.9,669.5 523.3,666.7 524.4,666.7C525.5,666.7 530.0,669.6 531.1,670.0C532.2,670.4 536.7,671.1 537.8,671.1C538.9,671.1 543.4,669.5 544.4,669.4C545.4,669.3 549.0,669.8 550.0,669.4C551.0,669.0 556.2,665.4 556.7,665.0L556.7,679.4C555.9,679.4 548.0,679.9 546.7,680.0C545.4,680.1 541.1,681.1 540.0,681.1C538.9,681.1 534.4,679.9 533.3,679.4C532.2,678.9 527.8,674.7 526.7,674.4C525.6,674.1 521.1,675.7 520.0,675.6C518.9,675.5 514.5,673.9 513.3,673.3C512.1,672.7 505.7,669.4 504.4,668.3C503.1,667.2 498.1,661.1 496.7,660.0C495.3,658.9 487.9,654.9 486.3,654.3C484.7,653.7 478.1,652.6 476.5,652.4C474.9,652.2 468.3,651.9 466.7,652.4C465.1,652.9 458.5,657.7 456.9,658.2C455.3,658.7 448.7,659.0 447.1,659.2C445.5,659.4 438.9,659.5 437.3,660.2C435.7,660.9 429.1,667.8 427.5,668.0C425.9,668.2 419.2,662.6 417.6,662.2C416.0,661.8 409.4,663.3 407.8,663.1C406.2,662.9 399.6,660.7 398.0,660.2C396.4,659.7 389.6,657.6 388.2,656.3C386.8,655.0 381.7,647.0 380.4,644.5C379.1,642.0 373.6,628.0 372.5,624.9C371.4,621.8 367.5,607.3 366.7,605.3C365.9,603.3 363.5,599.4 362.7,599.4C361.9,599.4 357.7,603.7 356.9,605.3C356.1,606.9 353.5,615.9 352.9,619.0C352.3,622.1 349.8,642.1 349.0,644.5C348.2,646.9 344.2,647.5 343.1,648.4C342.0,649.3 336.5,653.9 335.3,656.3C334.1,658.7 328.9,674.7 327.5,677.8C326.1,680.9 318.8,693.4 317.6,695.5C316.4,697.6 313.7,703.1 312.8,704.4C311.9,705.7 307.1,711.0 306.0,711.3C304.9,711.6 300.3,709.3 299.1,708.3C297.9,707.3 292.6,700.4 291.3,698.5C290.0,696.6 284.7,687.0 283.4,684.8C282.1,682.6 276.9,673.1 275.6,671.1C274.3,669.1 269.1,660.9 267.7,659.3C266.3,657.7 259.6,651.2 257.9,650.5C256.2,649.8 248.1,650.7 246.2,650.5C244.3,650.3 236.3,648.7 234.4,648.5C232.5,648.3 224.5,648.7 222.6,648.5C220.7,648.3 212.8,646.7 210.9,646.6C209.0,646.5 201.0,646.9 199.1,647.5C197.2,648.1 189.0,653.5 187.4,654.4C185.8,655.3 180.5,658.1 179.5,659.3C178.5,660.5 175.4,667.7 174.6,669.0C173.8,670.3 170.5,674.1 169.7,675.0C168.9,675.9 165.6,679.5 164.8,680.0C164.0,680.5 160.8,681.0 159.9,681.5C159.0,682.0 155.0,685.4 154.0,686.0C153.0,686.6 148.2,688.6 147.2,689.0C146.2,689.4 142.8,691.2 141.3,691.5C139.8,691.8 130.2,692.5 128.5,692.5C126.8,692.5 120.4,692.0 119.7,692.0Z" fill="#808080" fill-opacity="0.5" stroke="none"/>
<path d="M119.7,673.4C120.3,673.5 123.4,675.1 124.6,674.0C125.8,672.9 128.4,666.4 129.5,664.2C130.6,662.0 132.8,656.4 134.0,655.8C135.2,655.2 138.0,658.2 139.3,658.9C140.6,659.6 144.0,662.6 145.2,661.7C146.4,660.8 148.3,654.0 149.1,651.5C149.9,649.0 151.2,642.4 152.1,640.7C153.0,639.0 155.8,638.0 157.0,637.4C158.2,636.8 160.8,636.7 161.9,635.8C163.0,634.9 164.7,632.1 165.8,629.9C166.9,627.7 169.8,618.8 170.7,617.2C171.6,615.6 172.8,617.0 173.6,616.6C174.4,616.2 176.7,613.7 177.5,613.8C178.3,613.9 179.7,615.7 180.5,617.2C181.3,618.7 183.6,624.7 184.4,626.0C185.2,627.3 186.5,627.9 187.4,627.9C188.3,627.9 190.9,626.0 192.3,626.0C193.7,626.0 197.6,627.2 199.1,627.5C200.6,627.8 203.6,628.4 205.0,628.9C206.4,629.4 209.5,631.6 210.9,631.5C212.3,631.4 215.4,628.9 216.8,628.3C218.2,627.7 221.1,626.4 222.6,626.4C224.1,626.4 227.8,628.3 229.5,628.3C231.2,628.3 235.1,626.8 236.4,626.4C237.7,626.0 239.4,625.8 240.3,625.0C241.2,624.2 243.0,620.3 244.2,619.7C245.4,619.1 248.7,619.4 250.1,619.7C251.5,620.0 254.6,621.1 256.0,622.1C257.4,623.1 260.5,626.3 261.9,627.9C263.3,629.5 266.3,633.7 267.7,635.8C269.1,637.9 272.2,642.9 273.6,645.6C275.0,648.3 278.1,655.5 279.5,658.3C280.9,661.1 284.0,667.1 285.4,669.1C286.8,671.1 289.9,673.9 291.3,675.0C292.7,676.1 295.6,677.9 297.2,677.9C298.8,677.9 303.4,676.0 305.0,675.4C306.6,674.8 309.5,674.1 310.9,672.6C312.3,671.1 315.4,665.8 316.8,663.2C318.2,660.6 321.6,653.1 322.6,651.0C323.6,648.9 324.9,645.9 325.5,645.5C326.1,645.1 327.3,646.7 328.0,648.0C328.7,649.3 330.4,654.9 331.4,656.3C332.4,657.7 335.0,660.7 336.3,659.8C337.6,658.9 340.8,651.7 342.2,648.4C343.6,645.1 346.7,637.4 348.0,632.7C349.3,628.0 351.8,614.8 352.9,609.2C354.0,603.6 356.2,589.9 356.9,585.7C357.6,581.5 358.2,577.2 358.5,574.4C358.8,571.6 359.3,565.0 359.8,562.6C360.3,560.2 361.7,555.4 362.4,554.8C363.1,554.2 364.8,556.3 365.7,557.7C366.6,559.1 368.5,564.1 369.6,566.6C370.7,569.1 373.4,575.5 374.5,578.3C375.6,581.1 377.5,586.9 378.4,590.1C379.3,593.3 381.5,602.3 382.4,605.3C383.3,608.3 384.9,612.6 386.0,615.0C387.1,617.4 390.0,624.0 391.2,624.9C392.4,625.8 394.8,623.4 396.1,622.9C397.4,622.4 400.8,619.4 402.0,620.6C403.2,621.8 404.7,629.4 405.9,632.7C407.1,636.0 410.4,645.8 411.8,648.4C413.2,651.0 416.0,652.9 417.6,654.3C419.2,655.7 423.6,659.4 425.5,660.2C427.4,661.0 431.4,661.7 433.3,661.2C435.2,660.7 439.3,657.7 441.2,656.3C443.1,654.9 447.1,650.9 449.0,649.4C450.9,647.9 454.8,645.3 456.9,644.1C459.0,642.9 464.8,639.9 466.7,639.6C468.6,639.3 471.1,641.4 472.5,641.6C473.9,641.8 477.0,642.2 478.4,641.6C479.8,641.0 482.8,637.1 483.9,636.7C485.0,636.3 486.8,637.8 487.8,638.3C488.8,638.8 491.0,640.8 492.2,641.1C493.4,641.4 496.8,640.3 497.8,640.8C498.8,641.3 499.7,643.8 500.6,645.0C501.5,646.2 504.5,649.1 505.6,650.6C506.7,652.1 509.1,655.9 510.0,657.2C510.9,658.5 512.1,660.9 513.3,661.7C514.5,662.5 518.9,664.0 520.0,663.9C521.1,663.8 521.5,661.3 522.2,661.1C522.9,660.9 524.7,662.5 525.6,662.2C526.5,661.9 528.8,659.2 530.0,658.9C531.2,658.6 534.4,660.1 535.6,660.0C536.8,659.9 538.9,658.4 540.0,657.8C541.1,657.2 543.2,655.1 544.4,655.0C545.6,654.9 548.8,656.9 550.0,657.2C551.2,657.5 553.5,657.7 554.4,657.2C555.3,656.7 556.9,653.8 557.2,653.3" fill="none" stroke="#1b96e2" stroke-width="4.4" stroke-linejoin="round" stroke-linecap="round"/>
<path d="M119.7,689.1C120.8,689.1 125.9,689.2 128.5,689.1C131.1,689.0 139.1,688.7 141.3,688.3C143.5,687.9 145.7,686.5 147.2,685.8C148.7,685.1 152.5,683.4 154.0,682.5C155.5,681.6 158.6,678.7 159.9,677.9C161.2,677.1 163.6,676.8 164.8,676.0C166.0,675.2 168.5,672.5 169.7,671.1C170.9,669.7 173.4,666.2 174.6,664.2C175.8,662.2 178.4,656.0 179.5,654.4C180.6,652.8 182.5,651.1 183.4,650.5C184.3,649.9 186.2,649.7 187.4,649.1C188.6,648.5 191.3,646.6 193.2,645.6C195.1,644.6 200.9,641.2 203.0,640.7C205.1,640.2 209.0,641.8 210.9,641.7C212.8,641.6 216.8,640.3 218.7,639.7C220.6,639.1 224.7,637.5 226.6,636.8C228.5,636.1 232.5,634.2 234.4,633.8C236.3,633.4 240.4,633.4 242.3,633.4C244.2,633.4 248.6,633.5 250.1,633.8C251.6,634.1 253.6,634.5 255.0,635.8C256.4,637.1 260.1,642.4 261.9,644.6C263.7,646.8 267.8,652.2 269.7,654.4C271.6,656.6 275.6,661.5 277.5,663.2C279.4,664.9 283.5,667.7 285.4,668.7C287.3,669.7 291.6,671.2 293.2,671.7C294.8,672.2 297.7,673.1 299.1,673.0C300.5,672.9 303.7,671.7 305.0,671.0C306.3,670.3 308.7,668.8 310.0,667.5C311.3,666.2 314.3,662.3 315.7,660.2C317.1,658.1 320.2,653.0 321.6,650.4C323.0,647.8 326.1,640.5 327.5,638.6C328.9,636.7 331.9,635.4 333.3,634.7C334.7,634.0 338.0,633.8 339.2,632.4C340.4,631.0 342.2,626.9 343.1,622.9C344.0,618.9 346.3,605.4 347.1,599.4C347.9,593.4 349.3,578.3 350.0,572.5C350.7,566.7 352.2,555.8 352.9,550.9C353.6,546.0 354.9,534.1 355.5,531.3C356.1,528.5 357.0,527.3 357.5,527.4C358.0,527.5 359.2,530.2 359.8,532.3C360.4,534.4 362.0,541.6 362.7,545.0C363.4,548.4 365.0,556.7 365.7,560.7C366.4,564.7 368.0,574.4 368.6,578.3C369.2,582.2 369.8,589.1 370.6,593.5C371.4,597.9 374.3,610.6 375.5,615.1C376.7,619.6 379.1,627.6 380.4,630.8C381.7,634.0 385.0,640.1 386.3,641.6C387.6,643.1 390.0,642.7 391.2,643.5C392.4,644.3 394.8,647.5 396.1,648.4C397.4,649.3 400.5,650.6 402.0,651.4C403.5,652.2 406.9,655.0 408.8,655.3C410.7,655.6 415.6,653.8 417.6,653.9C419.6,654.0 423.4,656.5 425.5,656.3C427.6,656.1 432.9,652.6 435.3,652.4C437.7,652.2 442.7,654.1 445.1,654.3C447.5,654.5 452.8,654.5 454.9,653.9C457.0,653.3 461.1,650.2 462.7,649.4C464.3,648.6 466.9,647.1 468.6,646.9C470.3,646.7 474.7,647.8 476.5,648.0C478.3,648.2 481.8,648.4 483.3,648.9C484.8,649.4 487.4,651.3 488.9,652.2C490.4,653.1 494.0,654.8 495.6,656.1C497.2,657.4 500.6,661.9 502.2,663.3C503.8,664.7 507.3,666.7 508.9,667.8C510.5,668.9 514.3,671.7 515.6,672.2C516.9,672.7 518.9,672.4 520.0,672.2C521.1,672.0 523.8,670.4 525.0,670.6C526.2,670.8 528.7,673.2 530.0,673.9C531.3,674.6 534.1,676.6 535.6,676.7C537.1,676.8 540.6,675.2 542.2,675.0C543.8,674.8 547.4,675.0 548.9,674.8C550.4,674.6 553.3,673.3 554.4,673.0C555.5,672.7 557.4,672.3 557.8,672.2" fill="none" stroke="#000" stroke-width="4.4" stroke-linejoin="round" stroke-linecap="round"/>
<line x1="98.8" y1="725.0" x2="578.8" y2="725.0" stroke="#cccccc" stroke-width="1.25"/>
<g stroke="#262626" stroke-width="1.2"><line x1="156.1" y1="725.8" x2="156.1" y2="729.8"/><line x1="217.0" y1="725.8" x2="217.0" y2="729.8"/><line x1="277.9" y1="725.8" x2="277.9" y2="729.8"/><line x1="338.8" y1="725.8" x2="338.8" y2="729.8"/><line x1="399.7" y1="725.8" x2="399.7" y2="729.8"/><line x1="460.6" y1="725.8" x2="460.6" y2="729.8"/><line x1="521.5" y1="725.8" x2="521.5" y2="729.8"/></g>
<g font-size="13.9" fill="#262626"><text x="156.1" y="746.0" text-anchor="middle">−75</text><text x="217.0" y="746.0" text-anchor="middle">−50</text><text x="277.9" y="746.0" text-anchor="middle">−25</text><text x="338.8" y="746.0" text-anchor="middle">0</text><text x="399.7" y="746.0" text-anchor="middle">25</text><text x="460.6" y="746.0" text-anchor="middle">50</text><text x="521.5" y="746.0" text-anchor="middle">75</text></g>
<g font-size="13.9" fill="#262626"><text x="93.5" y="696.7" text-anchor="end">0.000000</text><text x="93.5" y="660.4" text-anchor="end">0.000025</text><text x="93.5" y="624.0" text-anchor="end">0.000050</text><text x="93.5" y="587.7" text-anchor="end">0.000075</text><text x="93.5" y="551.3" text-anchor="end">0.000100</text><text x="93.5" y="515.0" text-anchor="end">0.000125</text><text x="93.5" y="478.6" text-anchor="end">0.000150</text></g>
<text x="338.8" y="764.0" text-anchor="middle" font-size="13.9" fill="#262626" textLength="52" lengthAdjust="spacingAndGlyphs">Latitude</text>
<text x="338.9" y="423.0" text-anchor="middle" font-size="15.6" fill="#2f4f4f" stroke="#2f4f4f" stroke-width="0.45" textLength="28.1" lengthAdjust="spacingAndGlyphs">JJA</text>
<rect x="687.2" y="439.7" width="480.8" height="285.3" fill="#ffffff"/>
<g stroke="#cccccc" stroke-width="1.1" stroke-dasharray="4.1 1.8"><line x1="744.6" y1="439.7" x2="744.6" y2="725.0"/><line x1="805.5" y1="439.7" x2="805.5" y2="725.0"/><line x1="866.4" y1="439.7" x2="866.4" y2="725.0"/><line x1="927.3" y1="439.7" x2="927.3" y2="725.0"/><line x1="988.2" y1="439.7" x2="988.2" y2="725.0"/><line x1="1049.1" y1="439.7" x2="1049.1" y2="725.0"/><line x1="1110.0" y1="439.7" x2="1110.0" y2="725.0"/><line x1="687.2" y1="707.2" x2="1168.0" y2="707.2"/><line x1="687.2" y1="664.4" x2="1168.0" y2="664.4"/><line x1="687.2" y1="621.6" x2="1168.0" y2="621.6"/><line x1="687.2" y1="578.8" x2="1168.0" y2="578.8"/><line x1="687.2" y1="536.0" x2="1168.0" y2="536.0"/><line x1="687.2" y1="493.2" x2="1168.0" y2="493.2"/><line x1="687.2" y1="450.4" x2="1168.0" y2="450.4"/></g>
<path d="M708.3,701.5C708.8,701.5 713.6,701.6 714.6,701.5C715.6,701.4 719.3,700.0 720.5,700.0C721.7,700.0 728.1,701.3 729.3,701.0C730.5,700.7 734.0,697.5 735.0,696.3C736.0,695.1 740.5,687.1 741.5,685.8C742.5,684.5 747.1,681.5 748.1,680.6C749.1,679.7 753.6,675.3 754.6,674.0C755.6,672.7 760.2,666.7 761.1,664.9C762.0,663.1 765.7,653.3 766.4,651.8C767.1,650.3 769.4,647.4 770.3,646.6C771.2,645.8 776.9,642.8 778.1,642.0C779.3,641.2 783.8,637.4 784.7,636.8C785.6,636.2 789.0,634.6 789.9,634.2C790.8,633.8 795.2,632.6 796.4,632.2C797.6,631.8 802.8,630.2 804.3,629.6C805.8,629.0 814.0,624.9 815.0,624.4C816.0,623.9 816.0,624.4 816.6,623.8C817.2,623.2 821.2,617.2 822.5,617.0C823.8,616.8 830.9,619.9 832.3,620.9C833.7,621.9 838.7,628.1 840.1,629.7C841.5,631.3 848.5,639.2 849.9,640.5C851.3,641.8 856.4,644.5 857.7,645.4C859.0,646.3 864.5,650.6 865.6,651.3C866.7,652.0 870.4,654.4 871.5,654.2C872.6,654.0 878.0,650.5 879.3,649.3C880.6,648.1 886.1,641.5 887.2,639.5C888.3,637.5 892.2,626.5 893.0,623.8C893.8,621.1 897.0,607.2 897.8,605.3C898.6,603.4 901.9,601.7 902.8,600.3C903.7,598.9 907.8,588.1 908.7,587.5C909.6,586.9 913.7,592.5 914.6,592.5C915.5,592.5 919.1,588.5 920.0,588.0C920.9,587.5 925.4,587.1 926.3,585.7C927.2,584.3 930.4,575.5 931.2,570.5C932.0,565.5 935.4,530.8 936.1,523.4C936.8,516.0 939.4,483.9 940.0,478.3C940.6,472.7 942.7,454.5 943.3,453.2C943.9,451.9 946.3,460.6 946.9,462.6C947.5,464.6 950.2,475.3 950.8,478.3C951.4,481.3 954.2,496.3 954.7,499.9C955.2,503.5 957.2,519.6 957.6,523.4C958.0,527.2 959.2,544.0 959.6,547.0C960.0,550.0 961.9,558.2 962.5,560.7C963.1,563.2 966.7,575.4 967.5,578.3C968.3,581.2 971.8,593.5 972.8,596.7C973.8,599.9 979.4,616.2 980.6,618.9C981.8,621.6 986.3,628.7 987.2,630.0C988.1,631.3 990.8,634.2 992.0,634.7C993.2,635.2 1000.2,636.9 1001.8,636.7C1003.4,636.5 1009.9,634.0 1011.6,632.7C1013.3,631.4 1021.4,621.1 1023.3,620.6C1025.2,620.1 1033.4,625.1 1035.1,625.9C1036.8,626.7 1043.3,630.6 1044.9,630.8C1046.5,631.0 1053.3,629.1 1054.7,628.8C1056.1,628.5 1061.1,627.7 1062.5,627.5C1063.9,627.3 1070.5,624.9 1071.6,625.9C1072.7,626.9 1075.4,638.2 1076.5,640.6C1077.6,643.0 1083.7,654.4 1085.3,656.3C1086.9,658.2 1095.2,663.0 1097.1,664.1C1099.0,665.2 1106.9,669.2 1108.8,670.0C1110.7,670.8 1118.7,673.7 1120.6,673.9C1122.5,674.1 1130.4,673.0 1132.4,672.9C1134.4,672.8 1144.6,672.9 1145.7,672.9L1145.7,711.2C1144.6,710.6 1134.6,704.3 1132.4,703.3C1130.2,702.3 1120.6,699.3 1118.6,698.4C1116.6,697.5 1108.8,692.7 1106.9,691.6C1105.0,690.5 1096.8,686.1 1095.1,684.7C1093.4,683.3 1086.7,675.9 1085.3,673.9C1083.9,671.9 1078.6,662.2 1077.5,660.2C1076.4,658.2 1072.8,649.6 1071.6,648.4C1070.4,647.2 1063.9,645.6 1062.5,645.5C1061.1,645.4 1056.1,646.8 1054.7,647.5C1053.3,648.2 1046.8,653.5 1044.9,654.3C1043.0,655.1 1033.2,656.8 1031.2,657.3C1029.2,657.8 1021.3,659.7 1019.4,660.2C1017.5,660.7 1009.3,663.7 1007.6,664.1C1005.9,664.5 999.6,665.0 998.3,665.6C997.0,666.2 992.6,670.8 991.7,672.0C990.8,673.2 988.3,679.6 987.2,681.0C986.1,682.4 979.7,690.0 978.3,690.0C976.9,690.0 970.6,683.1 969.4,681.0C968.2,678.9 964.6,666.5 963.9,663.3C963.2,660.1 961.4,646.3 960.6,641.0C959.8,635.7 954.7,603.3 953.9,596.7C953.1,590.1 951.0,562.0 950.6,558.0C950.2,554.0 949.2,548.7 948.8,547.0C948.4,545.3 946.3,536.9 945.9,537.2C945.5,537.5 944.3,548.6 943.9,550.9C943.5,553.2 941.6,562.5 941.0,566.0C940.4,569.5 937.7,589.5 937.0,595.0C936.3,600.5 933.0,630.7 932.2,634.7C931.4,638.7 928.3,643.4 927.3,644.5C926.3,645.6 920.4,648.0 919.4,648.4C918.4,648.8 915.5,648.8 914.6,649.3C913.7,649.8 909.5,653.5 908.7,655.2C907.9,656.9 905.6,668.4 904.8,670.9C904.0,673.4 900.0,684.7 898.9,686.6C897.8,688.5 892.3,693.5 891.1,694.4C889.9,695.3 885.5,698.5 884.2,698.3C882.9,698.1 876.7,693.8 875.4,692.5C874.1,691.2 868.8,684.3 867.5,682.6C866.2,680.9 861.1,672.4 859.7,670.9C858.3,669.4 851.5,665.0 849.9,664.0C848.3,663.0 841.5,659.1 840.1,658.1C838.7,657.1 833.9,651.8 832.3,651.3C830.7,650.8 821.9,651.9 820.5,652.3C819.1,652.7 816.1,655.6 815.0,655.8C813.9,656.0 808.1,655.1 806.9,655.1C805.7,655.1 801.4,655.8 800.4,655.8C799.4,655.8 794.8,655.0 793.8,655.1C792.8,655.2 788.3,656.6 787.3,657.1C786.3,657.6 781.8,660.4 780.8,661.0C779.8,661.6 775.2,664.4 774.2,664.9C773.2,665.4 768.7,666.6 767.7,667.5C766.7,668.4 762.1,675.0 761.1,676.7C760.1,678.4 755.6,687.0 754.6,688.4C753.6,689.8 749.1,692.7 748.1,693.7C747.1,694.7 742.5,700.4 741.5,701.5C740.5,702.6 736.0,706.9 735.0,707.4C734.0,707.9 730.5,707.6 729.3,707.5C728.1,707.4 721.7,706.5 720.5,706.5C719.3,706.5 715.6,707.4 714.6,707.5C713.6,707.6 708.8,707.5 708.3,707.5Z" fill="#808080" fill-opacity="0.5" stroke="none"/>
<path d="M708.3,666.6C708.9,667.8 712.4,676.3 713.6,676.4C714.8,676.5 717.4,667.4 718.5,667.4C719.6,667.4 721.6,675.1 722.5,676.8C723.4,678.5 725.3,681.1 726.4,681.7C727.5,682.3 730.3,682.0 731.3,681.7C732.3,681.4 734.1,681.3 735.0,679.3C735.9,677.3 738.1,667.6 738.9,664.9C739.7,662.2 740.7,658.4 741.5,656.4C742.3,654.4 744.6,650.3 745.5,647.9C746.4,645.5 748.5,638.1 749.4,636.1C750.3,634.1 752.4,632.0 753.3,630.9C754.2,629.8 755.9,628.4 756.6,627.0C757.3,625.6 758.5,620.1 759.2,619.2C759.9,618.3 761.6,619.3 762.5,619.8C763.4,620.3 765.5,621.1 766.4,623.1C767.3,625.1 769.4,633.7 770.3,636.1C771.2,638.5 773.1,641.7 774.2,642.7C775.3,643.7 778.1,644.2 779.4,644.2C780.7,644.2 783.3,643.3 784.7,642.7C786.1,642.1 789.8,639.9 791.2,638.8C792.6,637.7 795.1,635.1 796.4,633.5C797.7,631.9 800.3,627.3 801.7,625.7C803.1,624.1 806.6,621.9 808.2,620.5C809.8,619.1 814.0,614.9 815.0,613.9C816.0,612.9 815.5,612.5 816.6,612.5C817.7,612.5 822.5,613.0 824.4,614.0C826.3,615.0 830.4,619.1 832.3,620.9C834.2,622.7 838.2,626.8 840.1,628.7C842.0,630.6 846.0,634.2 847.9,636.6C849.8,639.0 853.9,645.9 855.8,648.3C857.7,650.7 861.7,655.3 863.6,656.8C865.5,658.3 869.6,660.1 871.5,661.1C873.4,662.1 877.7,664.8 879.3,665.4C880.9,666.0 883.6,666.4 885.2,666.0C886.8,665.6 891.5,663.3 893.0,662.1C894.5,660.9 896.5,658.2 897.8,656.3C899.1,654.4 902.3,648.7 903.7,646.5C905.1,644.3 908.3,638.5 909.6,637.6C910.9,636.7 913.6,638.1 914.5,638.6C915.4,639.1 916.4,641.6 917.5,641.6C918.6,641.6 921.8,639.7 923.3,638.6C924.8,637.5 928.9,635.1 930.2,632.7C931.5,630.3 933.2,623.5 934.1,619.0C935.0,614.5 937.2,601.8 938.0,595.5C938.8,589.2 940.3,571.8 941.0,566.6C941.7,561.4 943.2,554.3 943.9,551.9C944.6,549.5 946.2,547.8 946.9,547.0C947.6,546.2 948.9,544.5 949.8,545.0C950.7,545.5 953.4,548.8 954.7,550.9C956.0,553.0 959.3,559.6 960.6,562.6C961.9,565.6 964.3,571.6 965.5,576.0C966.7,580.4 969.2,595.6 970.4,599.4C971.6,603.2 974.1,604.7 975.3,607.3C976.5,609.9 978.9,618.0 980.2,621.0C981.5,624.0 984.7,630.8 986.1,632.7C987.5,634.6 990.6,635.7 992.0,636.7C993.4,637.7 996.2,639.7 997.8,641.0C999.4,642.3 1004.0,647.5 1005.7,647.5C1007.4,647.5 1010.1,642.1 1011.6,640.6C1013.1,639.1 1016.5,635.2 1018.4,634.7C1020.3,634.2 1024.8,636.7 1027.3,636.7C1029.8,636.7 1036.6,636.1 1039.0,634.7C1041.4,633.3 1045.3,626.5 1046.9,624.9C1048.5,623.3 1051.4,621.7 1052.7,621.0C1054.0,620.3 1056.8,619.9 1057.8,619.0C1058.8,618.1 1060.0,613.8 1060.8,613.5C1061.6,613.2 1063.8,616.3 1064.7,616.1C1065.6,615.9 1067.7,613.5 1068.6,612.2C1069.5,610.9 1071.7,604.2 1072.5,605.3C1073.3,606.4 1074.8,617.5 1075.5,621.0C1076.2,624.5 1077.6,633.2 1078.4,634.7C1079.2,636.2 1081.3,633.0 1082.4,633.7C1083.5,634.4 1086.1,639.2 1087.3,640.6C1088.5,642.0 1090.9,645.5 1092.2,645.5C1093.5,645.5 1096.7,640.6 1098.0,640.2C1099.3,639.8 1101.6,642.7 1102.9,642.2C1104.2,641.7 1107.6,636.0 1108.8,635.7C1110.0,635.4 1111.3,638.8 1112.7,639.6C1114.1,640.4 1119.1,642.5 1120.6,642.2C1122.1,641.9 1124.6,639.0 1125.5,636.7C1126.4,634.4 1127.7,626.5 1128.4,622.9C1129.1,619.3 1130.5,608.0 1131.4,606.3C1132.3,604.6 1135.2,608.6 1136.3,608.8C1137.4,609.0 1139.3,607.7 1140.2,607.6C1141.1,607.5 1143.0,609.8 1143.7,608.2C1144.4,606.6 1145.5,595.6 1145.7,593.9" fill="none" stroke="#1b96e2" stroke-width="4.4" stroke-linejoin="round" stroke-linecap="round"/>
<path d="M708.3,704.6C709.1,704.6 713.1,704.8 714.6,704.6C716.1,704.4 718.7,703.2 720.5,703.2C722.3,703.2 727.6,704.4 729.3,704.2C731.0,704.0 733.5,702.6 735.0,701.5C736.5,700.4 739.9,696.6 741.5,695.0C743.1,693.4 746.5,689.7 748.1,688.4C749.7,687.1 753.0,686.4 754.6,684.5C756.2,682.6 759.7,675.4 761.1,672.7C762.5,670.0 765.3,664.1 766.4,662.3C767.5,660.5 769.1,658.6 770.3,657.7C771.5,656.8 775.1,655.6 776.8,654.4C778.5,653.2 783.0,649.1 784.7,647.9C786.4,646.7 789.6,644.4 791.2,644.2C792.8,644.0 796.1,646.5 797.7,646.3C799.3,646.1 802.4,643.5 804.3,642.7C806.2,641.9 811.5,640.7 813.4,639.8C815.3,638.9 818.7,636.3 820.5,635.6C822.3,634.9 826.7,634.0 828.3,634.0C829.9,634.0 832.7,634.9 834.2,636.0C835.7,637.1 839.2,641.4 841.1,643.4C843.0,645.4 847.9,650.8 849.9,652.3C851.9,653.8 855.8,654.8 857.7,656.2C859.6,657.6 863.7,662.1 865.6,664.0C867.5,665.9 871.5,671.0 873.4,671.9C875.3,672.8 879.8,672.3 881.3,671.9C882.8,671.5 885.2,670.3 886.2,668.9C887.2,667.5 888.8,662.4 890.0,660.2C891.2,658.0 894.4,653.0 895.9,650.4C897.4,647.8 901.3,641.9 902.7,638.6C904.1,635.3 906.7,625.1 907.6,622.9C908.5,620.7 909.5,620.0 910.6,620.0C911.7,620.0 914.9,623.2 916.5,622.9C918.1,622.6 922.8,618.3 924.3,617.1C925.8,615.9 928.1,615.0 929.2,613.1C930.3,611.2 932.2,607.5 933.1,601.4C934.0,595.3 936.2,571.5 937.1,562.6C938.0,553.7 940.2,534.9 941.0,527.4C941.8,519.9 943.2,503.8 943.9,499.9C944.6,496.0 945.9,494.8 946.5,495.0C947.1,495.2 948.2,498.5 948.8,501.9C949.4,505.3 951.1,517.5 951.8,523.4C952.5,529.3 954.0,544.3 954.7,550.9C955.4,557.5 957.1,572.9 957.6,578.3C958.1,583.7 957.9,590.6 958.6,595.5C959.3,600.4 962.2,614.8 963.5,619.0C964.8,623.2 968.1,627.7 969.4,630.8C970.7,633.9 973.0,641.7 974.3,644.5C975.6,647.3 978.6,652.2 980.2,654.3C981.8,656.4 986.2,662.0 988.0,662.2C989.8,662.4 993.2,657.0 994.9,656.3C996.6,655.6 1000.3,656.8 1001.8,656.3C1003.3,655.8 1006.3,653.1 1007.6,652.4C1008.9,651.7 1011.3,651.5 1012.5,650.4C1013.7,649.3 1016.0,644.9 1017.5,643.5C1019.0,642.1 1023.4,638.9 1025.3,638.6C1027.2,638.3 1030.7,640.1 1033.1,640.6C1035.5,641.1 1043.0,642.7 1044.9,642.5C1046.8,642.3 1047.2,639.2 1048.8,638.6C1050.4,638.0 1055.8,637.8 1058.6,637.6C1061.4,637.4 1070.4,636.0 1072.4,637.3C1074.4,638.6 1074.8,646.4 1075.5,648.4C1076.2,650.4 1077.2,652.4 1078.4,654.3C1079.6,656.2 1083.4,661.9 1085.3,664.1C1087.2,666.3 1091.7,671.1 1094.1,672.9C1096.5,674.7 1102.1,677.3 1104.9,678.8C1107.7,680.3 1114.8,684.5 1117.6,685.7C1120.4,686.9 1126.2,688.3 1128.4,688.6C1130.6,688.9 1134.2,688.1 1136.3,688.6C1138.4,689.1 1144.6,692.0 1145.7,692.5" fill="none" stroke="#000" stroke-width="4.4" stroke-linejoin="round" stroke-linecap="round"/>
<line x1="687.2" y1="725.0" x2="1168.0" y2="725.0" stroke="#cccccc" stroke-width="1.25"/>
<g stroke="#262626" stroke-width="1.2"><line x1="744.6" y1="725.8" x2="744.6" y2="729.8"/><line x1="805.5" y1="725.8" x2="805.5" y2="729.8"/><line x1="866.4" y1="725.8" x2="866.4" y2="729.8"/><line x1="927.3" y1="725.8" x2="927.3" y2="729.8"/><line x1="988.2" y1="725.8" x2="988.2" y2="729.8"/><line x1="1049.1" y1="725.8" x2="1049.1" y2="729.8"/><line x1="1110.0" y1="725.8" x2="1110.0" y2="729.8"/></g>
<g font-size="13.9" fill="#262626"><text x="744.6" y="746.0" text-anchor="middle">−75</text><text x="805.5" y="746.0" text-anchor="middle">−50</text><text x="866.4" y="746.0" text-anchor="middle">−25</text><text x="927.3" y="746.0" text-anchor="middle">0</text><text x="988.2" y="746.0" text-anchor="middle">25</text><text x="1049.1" y="746.0" text-anchor="middle">50</text><text x="1110.0" y="746.0" text-anchor="middle">75</text></g>
<g font-size="13.9" fill="#262626"><text x="681.9" y="712.7" text-anchor="end">0.00000</text><text x="681.9" y="669.9" text-anchor="end">0.00002</text><text x="681.9" y="627.1" text-anchor="end">0.00004</text><text x="681.9" y="584.3" text-anchor="end">0.00006</text><text x="681.9" y="541.5" text-anchor="end">0.00008</text><text x="681.9" y="498.7" text-anchor="end">0.00010</text><text x="681.9" y="455.9" text-anchor="end">0.00012</text></g>
<text x="927.3" y="764.0" text-anchor="middle" font-size="13.9" fill="#262626" textLength="52" lengthAdjust="spacingAndGlyphs">Latitude</text>
<text x="927.0" y="423.0" text-anchor="middle" font-size="15.6" fill="#2f4f4f" stroke="#2f4f4f" stroke-width="0.45" textLength="32.3" lengthAdjust="spacingAndGlyphs">SON</text>
<g transform="translate(61.9,207.2) rotate(-90)" font-size="13.9" fill="#262626" text-anchor="middle"><text x="0" y="0" textLength="166" lengthAdjust="spacingAndGlyphs">Total precipitation rate [kg</text><text x="0" y="16.1" textLength="74.8" lengthAdjust="spacingAndGlyphs">m**-2 s**-1]</text></g>
<g transform="translate(607.4,207.2) rotate(-90)" font-size="13.9" fill="#262626" text-anchor="middle"><text x="0" y="0" textLength="166" lengthAdjust="spacingAndGlyphs">Total precipitation rate [kg</text><text x="0" y="16.1" textLength="74.8" lengthAdjust="spacingAndGlyphs">m**-2 s**-1]</text></g>
<g transform="translate(12.5,582.4) rotate(-90)" font-size="13.9" fill="#262626" text-anchor="middle"><text x="0" y="0" textLength="166" lengthAdjust="spacingAndGlyphs">Total precipitation rate [kg</text><text x="0" y="16.1" textLength="74.8" lengthAdjust="spacingAndGlyphs">m**-2 s**-1]</text></g>
<g transform="translate(607.4,582.4) rotate(-90)" font-size="13.9" fill="#262626" text-anchor="middle"><text x="0" y="0" textLength="166" lengthAdjust="spacingAndGlyphs">Total precipitation rate [kg</text><text x="0" y="16.1" textLength="74.8" lengthAdjust="spacingAndGlyphs">m**-2 s**-1]</text></g>
<text x="98.8" y="60.8" font-size="13.9" fill="#262626">1e−5</text>
<rect x="444.6" y="70.4" width="128.5" height="37.6" rx="2.5" fill="#ffffff" fill-opacity="0.8" stroke="#c8c8c8" stroke-width="1.3"/>
<line x1="449.6" y1="80.4" x2="472.2" y2="80.4" stroke="#1b96e2" stroke-width="4.4" stroke-linecap="round"/>
<line x1="449.6" y1="97.4" x2="472.2" y2="97.4" stroke="#000" stroke-width="4.4" stroke-linecap="round"/>
<text x="482" y="84" font-size="11" fill="#262626" textLength="86" lengthAdjust="spacingAndGlyphs">EC-EARTH4 a9zq</text>
<text x="482" y="100.8" font-size="11" fill="#262626" textLength="53.3" lengthAdjust="spacingAndGlyphs">Reference</text>
<text x="579.5" y="16" text-anchor="middle" font-size="19.5" font-weight="bold" fill="#262626" textLength="521" lengthAdjust="spacingAndGlyphs">Zonal profile for Total precipitation rate [kg m**-2 s**-1]</text>
</svg>
</body></html>
